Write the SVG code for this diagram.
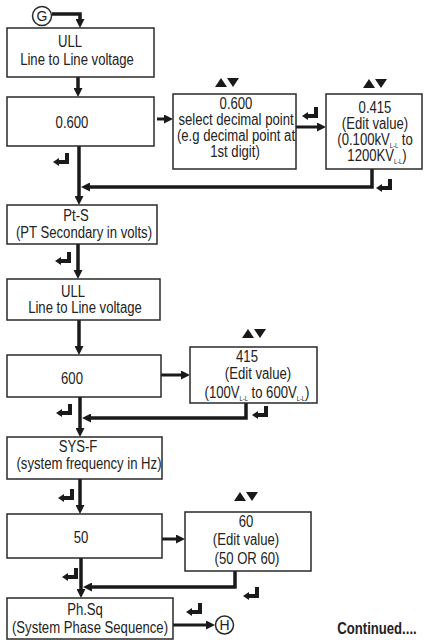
<svg xmlns="http://www.w3.org/2000/svg" width="424" height="640" viewBox="0 0 424 640">
<style>
.box{fill:#fff;stroke:#2a2a2a;stroke-width:1.5}
.t{font-family:"Liberation Sans",Arial,sans-serif;font-size:16px;fill:#222;text-anchor:middle}
.sub{font-size:7px}
.c{fill:none;stroke:#1a1a1a;stroke-width:3.5}
.cs{fill:none;stroke:#1a1a1a;stroke-width:3}
.sym{fill:#1a1a1a}
</style>
<defs>
<marker id="ah" markerUnits="userSpaceOnUse" markerWidth="9" markerHeight="9" viewBox="0 0 9 9" refX="3" refY="4.5" orient="auto">
<path d="M0,0 L9,4.5 L0,9 z" fill="#1a1a1a"/>
</marker>
<g id="ent" class="sym"><rect x="12" y="0" width="4" height="11"/><rect x="5" y="7" width="11" height="4"/><polygon points="0,9 6,5 6,13"/></g>
<g id="ud" class="sym"><polygon points="0,9 6,0 12,9"/><polygon points="12,0 24,0 18,9"/></g>
</defs>

<g id="connectors">
<path class="c" d="M52,14 H80 V22" marker-end="url(#ah)"/>
<path class="c" d="M78,77 V91" marker-end="url(#ah)"/>
<path class="cs" d="M157,119 H167" marker-end="url(#ah)"/>
<path class="cs" d="M296,127 H320" marker-end="url(#ah)"/>
<path class="c" d="M79,146 V199" marker-end="url(#ah)"/>
<path class="c" d="M372,169 V187 H87" marker-end="url(#ah)"/>
<path class="c" d="M78,244 V273" marker-end="url(#ah)"/>
<path class="c" d="M79,320 V349" marker-end="url(#ah)"/>
<path class="cs" d="M146,375 H184" marker-end="url(#ah)"/>
<path class="c" d="M80,397 V431" marker-end="url(#ah)"/>
<path class="c" d="M246,403 V418 H88" marker-end="url(#ah)"/>
<path class="c" d="M80,479 V508" marker-end="url(#ah)"/>
<path class="cs" d="M146,539 H179" marker-end="url(#ah)"/>
<path class="c" d="M81,558 V592" marker-end="url(#ah)"/>
<path class="c" d="M235,571 V587 H89" marker-end="url(#ah)"/>
<path class="cs" d="M173,625 H209" marker-end="url(#ah)"/>
</g>

<g id="symbols">
<use href="#ud" x="215" y="78"/>
<use href="#ud" x="363" y="79"/>
<use href="#ud" x="242" y="329"/>
<use href="#ud" x="234" y="492"/>
<use href="#ent" x="302" y="107"/>
<use href="#ent" x="376" y="179"/>
<use href="#ent" x="53" y="153"/>
<use href="#ent" x="55" y="252"/>
<use href="#ent" x="56" y="404"/>
<use href="#ent" x="252" y="406"/>
<use href="#ent" x="58" y="489"/>
<use href="#ent" x="62" y="568"/>
<use href="#ent" x="243" y="587"/>
<use href="#ent" x="186" y="603"/>
</g>

<g id="G">
<circle cx="42" cy="16" r="9.5" fill="#fff" stroke="#2a2a2a" stroke-width="1.5"/>
<text class="t" x="42" y="21" style="font-size:14px">G</text>
</g>

<g id="ull1">
<rect class="box" x="7" y="28" width="147" height="49"/>
<text class="t" transform="translate(70,47) scale(0.82,1)">ULL</text>
<text class="t" transform="translate(77,65) scale(0.82,1)">Line to Line voltage</text>
</g>

<g id="v0600">
<rect class="box" x="7" y="97" width="147" height="49"/>
<text class="t" transform="translate(72,128) scale(0.82,1)">0.600</text>
</g>

<g id="decimal">
<rect class="box" x="173" y="94" width="123" height="75"/>
<text class="t" transform="translate(236,109) scale(0.82,1)">0.600</text>
<text class="t" transform="translate(236,125) scale(0.82,1)">select decimal point</text>
<text class="t" transform="translate(236,141) scale(0.82,1)">(e.g decimal point at</text>
<text class="t" transform="translate(235,157) scale(0.82,1)">1st digit)</text>
</g>

<g id="edit0415">
<rect class="box" x="326" y="94" width="96" height="75"/>
<text class="t" transform="translate(375,113) scale(0.82,1)">0.415</text>
<text class="t" transform="translate(375,129) scale(0.82,1)">(Edit value)</text>
<text class="t" transform="translate(375,145) scale(0.82,1)">(0.100kV<tspan class="sub" dy="3">L-L</tspan><tspan dy="-3"> to</tspan></text>
<text class="t" transform="translate(377,161) scale(0.82,1)">1200KV<tspan class="sub" dy="3">L-L</tspan><tspan dy="-3">)</tspan></text>
</g>

<g id="pts">
<rect class="box" x="7" y="205" width="150" height="39"/>
<text class="t" transform="translate(76,221) scale(0.82,1)">Pt-S</text>
<text class="t" transform="translate(84,238) scale(0.82,1)">(PT Secondary in volts)</text>
</g>

<g id="ull2">
<rect class="box" x="7" y="279" width="153" height="41"/>
<text class="t" transform="translate(73,297) scale(0.82,1)">ULL</text>
<text class="t" transform="translate(85,313) scale(0.82,1)">Line to Line voltage</text>
</g>

<g id="v600">
<rect class="box" x="7" y="355" width="154" height="42"/>
<text class="t" transform="translate(72,384) scale(0.82,1)">600</text>
</g>

<g id="edit415">
<rect class="box" x="190" y="347" width="127" height="56"/>
<text class="t" transform="translate(247,362) scale(0.82,1)">415</text>
<text class="t" transform="translate(258,379) scale(0.82,1)">(Edit value)</text>
<text class="t" transform="translate(257,398) scale(0.82,1)">(100V<tspan class="sub" dy="3">L-L</tspan><tspan dy="-3"> to 600V</tspan><tspan class="sub" dy="3">L-L</tspan><tspan dy="-3">)</tspan></text>
</g>

<g id="sysf">
<rect class="box" x="7" y="437" width="155" height="42"/>
<text class="t" transform="translate(78,452) scale(0.82,1)">SYS-F</text>
<text class="t" transform="translate(89,469) scale(0.82,1)">(system frequency in Hz)</text>
</g>

<g id="v50">
<rect class="box" x="7" y="514" width="155" height="44"/>
<text class="t" transform="translate(81,543) scale(0.82,1)">50</text>
</g>

<g id="edit60">
<rect class="box" x="185" y="512" width="126" height="59"/>
<text class="t" transform="translate(246,527) scale(0.82,1)">60</text>
<text class="t" transform="translate(246,545) scale(0.82,1)">(Edit value)</text>
<text class="t" transform="translate(247,564) scale(0.82,1)">(50 OR 60)</text>
</g>

<g id="phsq">
<rect class="box" x="7" y="598" width="166" height="41"/>
<text class="t" transform="translate(85,615) scale(0.82,1)">Ph.Sq</text>
<text class="t" transform="translate(90,633) scale(0.82,1)">(System Phase Sequence)</text>
</g>

<g id="H">
<circle cx="224.5" cy="625" r="9" fill="#fff" stroke="#2a2a2a" stroke-width="1.5"/>
<text class="t" x="224.5" y="630" style="font-size:14px">H</text>
</g>

<text class="t" transform="translate(377,634) scale(0.82,1)" style="font-weight:bold">Continued....</text>
</svg>
